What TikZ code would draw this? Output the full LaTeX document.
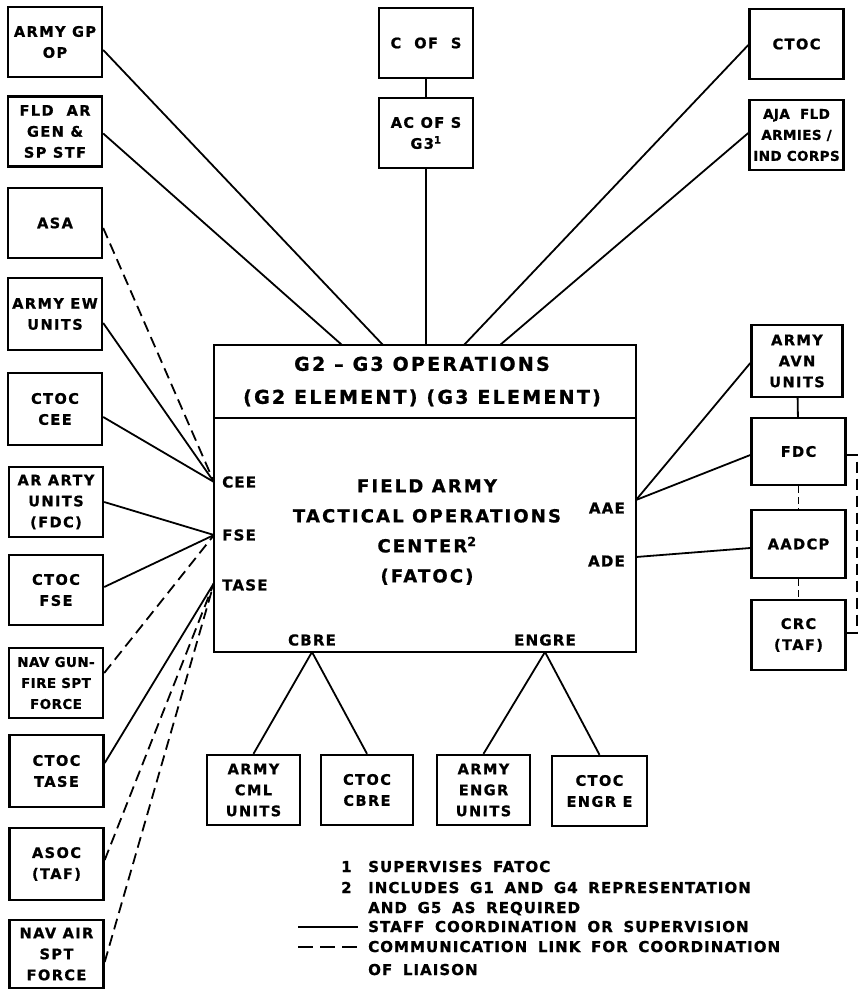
\documentclass[tikz,border=0pt]{standalone}
\usepackage{fontspec}
\setmainfont{DejaVu Sans}
\newfontfamily\bxf{DejaVu Sans}[LetterSpace=10, BoldFeatures={FakeBold=1}]
\newfontfamily\bxtf{DejaVu Sans}[LetterSpace=3, BoldFeatures={FakeBold=1}]
\newfontfamily\hdf{DejaVu Sans}[LetterSpace=12, BoldFeatures={FakeBold=1}]
\newfontfamily\lbf{DejaVu Sans}[LetterSpace=8, BoldFeatures={FakeBold=1}]
\newfontfamily\lgf{DejaVu Sans}[LetterSpace=7, WordSpace=1.7, BoldFeatures={FakeBold=1}]
\begin{document}
\begin{tikzpicture}[x=1pt,y=-1pt,
  box/.style={draw, line width=2.4pt, minimum width=94pt, minimum height=70pt, inner sep=0pt, align=center,
    font=\bxf\bfseries\fontsize{14.5pt}{21pt}\selectfont},
  tightbox/.style={box, font=\bxtf\bfseries\fontsize{13.5pt}{21pt}\selectfont},
  mainbox/.style={draw, line width=2.4pt, outer sep=0pt, minimum width=422pt, inner sep=0pt, align=center},
  hdtext/.style={align=center, inner sep=0pt, font=\hdf\bfseries\fontsize{19pt}{33pt}\selectfont},
  bodytext/.style={align=center, inner sep=0pt, font=\hdf\bfseries\fontsize{18pt}{30pt}\selectfont},
  lab/.style={inner sep=0pt, font=\lbf\bfseries\fontsize{15pt}{17pt}\selectfont},
  leg/.style={inner sep=0pt, anchor=base west, font=\lgf\bfseries\fontsize{15pt}{17pt}\selectfont},
  conn/.style={line width=1.8pt},
  dsh/.style={line width=1.8pt, dash pattern=on 11pt off 6pt},
  dshort/.style={line width=1.8pt, dash pattern=on 7pt off 4pt}]
\useasboundingbox (0,0) rectangle (865,990);

% left column
\node[box] (gp) at (55,42) {ARMY GP\\OP};
\node[box] (fld) at (55,131.5) {FLD\ \ AR\\GEN \&\\SP STF};
\node[box] (asa) at (55,223) {ASA};
\node[box, minimum height=72pt] (ew) at (55,314) {ARMY EW\\UNITS};
\node[box, minimum height=72pt] (ctcee) at (55,409) {CTOC\\CEE};
\node[box] (arty) at (56,502) {AR ARTY\\UNITS\\(FDC)};
\node[box] (ctfse) at (56,590) {CTOC\\FSE};
\node[tightbox] (navgun) at (56,683) {NAV GUN-\\FIRE SPT\\FORCE};
\node[box, minimum height=72pt] (cttase) at (56.5,771) {CTOC\\TASE};
\node[box, minimum height=72pt] (asoc) at (56.5,864) {ASOC\\(TAF)};
\node[box, minimum height=68pt] (navair) at (56.5,954) {NAV AIR\\SPT\\FORCE};

% top
\node[box] (cofs) at (426,43) {C\ \ OF\ \ S};
\node[box] (acofs) at (426,133) {AC OF S\\G3\textsuperscript{1}};
\node[box] (ctoc) at (796.5,44) {CTOC};
\node[tightbox] (aja) at (796.5,135) {AJA\ \ FLD\\ARMIES /\\IND CORPS};

% main box
\node[mainbox, minimum height=73pt] (hdr) at (425,381.5) {};
\node[mainbox, minimum height=234pt, anchor=north] (body) at (hdr.south) {};
\node[hdtext] (hdrtxt) at (422,381.5) {G2 – G3 OPERATIONS\\(G2 ELEMENT) (G3 ELEMENT)};
\node[bodytext] (title) at (427,532) {FIELD ARMY\\TACTICAL OPERATIONS\\CENTER\textsuperscript{2}\\(FATOC)};
\node[lab, anchor=west] (lcee) at (222,482) {CEE};
\node[lab, anchor=west] (lfse) at (222,535) {FSE};
\node[lab, anchor=west] (ltase) at (222,585) {TASE};
\node[lab, anchor=east] (laae) at (625,508) {AAE};
\node[lab, anchor=east] (lade) at (625,561) {ADE};
\node[lab] (lcbre) at (312,640) {CBRE};
\node[lab] (lengre) at (545,640) {ENGRE};

% attachment points
\coordinate (cee) at (214,482);
\coordinate (fse) at (214,535);
\coordinate (tase) at (214,583);
\coordinate (aae) at (636,500);
\coordinate (ade) at (636,557);
\coordinate (cbre) at (312,652);
\coordinate (engre) at (545,652);
\coordinate (tgp) at (383,345);
\coordinate (tfld) at (342,345);
\coordinate (tctoc) at (464,345);
\coordinate (taja) at (500,345);

% right column
\node[box, minimum width=91pt, minimum height=72pt] (avn) at (797,361) {ARMY\\AVN\\UNITS};
\node[box, minimum height=67pt] (fdc) at (798.5,451.5) {FDC};
\node[box, minimum height=68pt] (aadcp) at (798.5,544) {AADCP};
\node[box] (crc) at (798.5,635) {CRC\\(TAF)};
\coordinate (b1) at (857,455);
\coordinate (b2) at (857,633);

% bottom row
\node[box, minimum width=93pt] (cml) at (253.5,790) {ARMY\\CML\\UNITS};
\node[box, minimum width=92pt] (ctcbre) at (367,790) {CTOC\\CBRE};
\node[box, minimum width=93pt] (engr) at (483.5,790) {ARMY\\ENGR\\UNITS};
\node[box, minimum width=95pt] (ctengr) at (599.5,791) {CTOC\\ENGR E};

% connectors: left
\draw[conn] (gp.east) ++(0,8) -- (tgp);
\draw[conn] (fld.east) ++(0,2) -- (tfld);
\draw[dsh] (asa.east) ++(0,5) -- (cee);
\draw[conn] (ew.east) ++(0,9) -- (cee);
\draw[conn] (ctcee.east) ++(0,8) -- (cee);
\draw[conn] (arty.east) -- (fse);
\draw[conn] (ctfse.east) ++(0,-3) -- (fse);
\draw[dsh] (navgun.east) ++(0,-10) -- (fse);
\draw[conn] (cttase.east) ++(0,-8) -- (tase);
\draw[dsh] (asoc.east) ++(0,-4) -- (tase);
\draw[dsh] (navair.east) ++(0,8) -- (tase);

% connectors: top
\draw[conn] (cofs) -- (acofs);
\draw[conn] (acofs) -- (acofs |- hdr.north);
\draw[conn] (ctoc.west) ++(0,1) -- (tctoc);
\draw[conn] (aja.west) ++(0,-2) -- (taja);

% connectors: right
\draw[conn] (avn.west) ++(0,2) -- (aae);
\draw[conn] (fdc.west) ++(0,3.5) -- (aae);
\draw[conn] (aadcp.west) ++(0,4) -- (ade);
\draw[conn] (avn) -- (fdc);
\draw[dshort] (fdc) -- (aadcp);
\draw[dshort] (aadcp) -- (crc);
\draw[dsh] (fdc.east) ++(0,3.5) -- (b1) -- (b2) -- ([yshift=2pt]crc.east);

% connectors: bottom
\draw[conn] (cbre) -- (cml.north);
\draw[conn] (cbre) -- (ctcbre.north);
\draw[conn] (engre) -- (engr.north);
\draw[conn] (engre) -- (ctengr.north);

% legend
\node[leg] (n1) at (341,872) {1};
\node[leg] (leg1) at (368,872) {SUPERVISES FATOC};
\node[leg] (n2) at (341,893) {2};
\node[leg] (leg2) at (368,893) {INCLUDES G1 AND G4 REPRESENTATION};
\node[leg] (leg3) at (368,913) {AND G5 AS REQUIRED};
\node[leg] (leg4) at (368,932) {STAFF COORDINATION OR SUPERVISION};
\node[leg] (leg5) at (368,952) {COMMUNICATION LINK FOR COORDINATION};
\node[leg] (leg6) at (368,975) {OF LIAISON};
\coordinate (ls1) at (298,927);
\coordinate (ls2) at (358,927);
\coordinate (ld1) at (298,947);
\coordinate (ld2) at (358,947);
\draw[conn] (ls1) -- (ls2);
\draw[line width=1.8pt, dash pattern=on 15pt off 7pt] (ld1) -- (ld2);
\end{tikzpicture}
\end{document}
